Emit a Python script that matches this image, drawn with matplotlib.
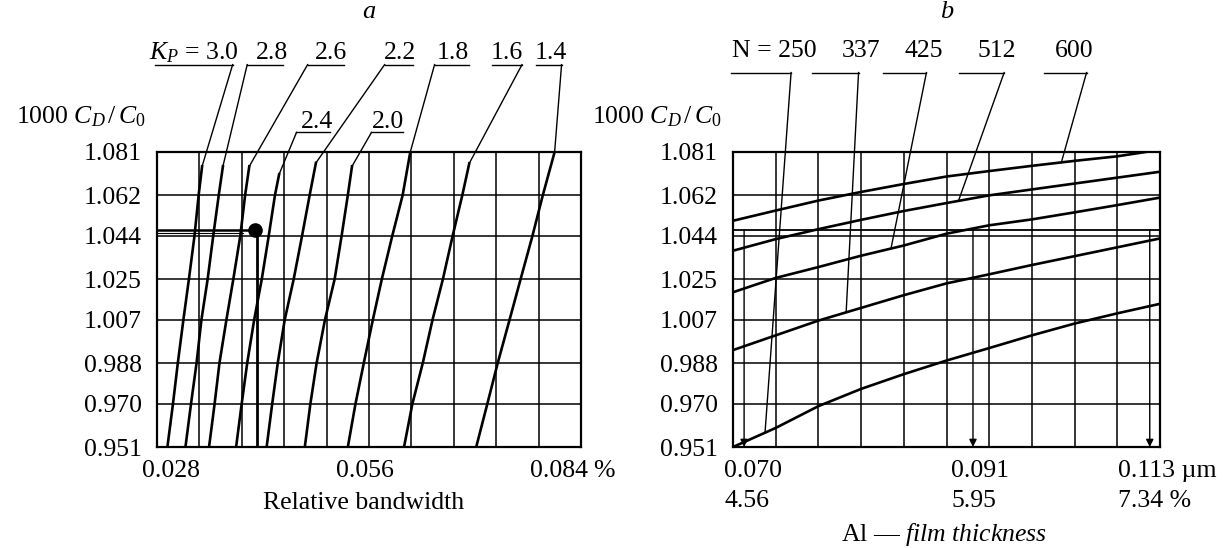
"""Nomogram: capacitance ratio against relative bandwidth (a) and Al film thickness (b)."""

import numpy as np
import matplotlib
matplotlib.use('Agg')
import matplotlib.pyplot as plt
from matplotlib.transforms import blended_transform_factory

plt.rcParams['font.family'] = ['Liberation Serif', 'DejaVu Serif']
plt.rcParams['mathtext.fontset'] = 'custom'
plt.rcParams['mathtext.rm'] = 'Liberation Serif'
plt.rcParams['mathtext.it'] = 'Liberation Serif:italic'
plt.rcParams['font.size'] = 18.5

# shared ordinate: 1000 C_D / C_0
ratio_levels = [0.951, 0.970, 0.988, 1.007, 1.025, 1.044, 1.062, 1.081]
reading_level = 1.0468

# ---- panel a: relative bandwidth (%) of each K_P line at ratio_levels[:7]
kp_values = ['$K_P$ = 3.0', '2.8', '2.6', '2.4', '2.2', '2.0', '1.8', '1.6', '1.4']
bw_30 = [0.0275, 0.0283, 0.0290, 0.0298, 0.0306, 0.0314, 0.0320]
bw_28 = [0.0301, 0.0309, 0.0317, 0.0324, 0.0333, 0.0341, 0.0349]
bw_26 = [0.0335, 0.0343, 0.0350, 0.0360, 0.0370, 0.0380, 0.0387]
bw_24 = [0.0374, 0.0382, 0.0390, 0.0400, 0.0411, 0.0421, 0.0430]
bw_22 = [0.0418, 0.0426, 0.0434, 0.0444, 0.0457, 0.0469, 0.0480]
bw_20 = [0.0473, 0.0481, 0.0490, 0.0502, 0.0516, 0.0526, 0.0535]
bw_18 = [0.0535, 0.0546, 0.0558, 0.0571, 0.0584, 0.0599, 0.0614]
bw_16 = [0.0616, 0.0628, 0.0643, 0.0657, 0.0672, 0.0686, 0.0700]
bw_14 = [0.0720, 0.0736, 0.0751, 0.0768, 0.0784, 0.0801, 0.0816]
kp_curves = [bw_30, bw_28, bw_26, bw_24, bw_22, bw_20, bw_18, bw_16, bw_14]
# upper end of each line, where the label leader meets it
kp_end_bw = [0.0325, 0.0355, 0.0393, 0.0436, 0.0489, 0.0541, 0.0625, 0.0710, 0.0833]
kp_end_ratio = [1.0747, 1.0747, 1.0747, 1.0712, 1.0762, 1.0747, 1.081, 1.0760, 1.081]
bw_ticks = [0.028, 0.056, 0.084]
operating_bw = 0.0401

# ---- panel b: curves for each N, sampled at the 10 grid divisions
n_values = ['N = 250', '337', '425', '512', '600']
div_b = [0, 1, 2, 3, 4, 5, 6, 7, 8, 9, 10]
div_600 = [0, 1, 2, 3, 4, 5, 6, 7, 8, 9, 9.66]
n_250 = [0.951, 0.9594, 0.9690, 0.9766, 0.9831, 0.9891, 0.9946, 1.0002, 1.0054, 1.0099, 1.0141]
n_337 = [0.9937, 1.0002, 1.0067, 1.0123, 1.0179, 1.0231, 1.0271, 1.0312, 1.0351, 1.0390, 1.0429]
n_425 = [1.0192, 1.0255, 1.0303, 1.0353, 1.0398, 1.0450, 1.0487, 1.0513, 1.0544, 1.0576, 1.0609]
n_512 = [1.0375, 1.0426, 1.0470, 1.0511, 1.0550, 1.0585, 1.0619, 1.0645, 1.0671, 1.0697, 1.0723]
n_600 = [1.0507, 1.0552, 1.0596, 1.0634, 1.0669, 1.0702, 1.0726, 1.0749, 1.0771, 1.0791, 1.081]
n_curves = [(div_b, n_250), (div_b, n_337), (div_b, n_425), (div_b, n_512), (div_600, n_600)]
n_attach = [0.75, 2.65, 3.70, 5.28, 7.69]
thick_div = [0.26, 5.62, 9.76]
thick_um = ['0.070', '0.091', '0.113 µm']
thick_pct = ['4.56', '5.95', '7.34 %']

# ---- label layout (leader underlines, text anchors)
kp_text_x = [0.0313, 0.0426, 0.0511, 0.0490, 0.0610, 0.0593, 0.0686, 0.0764, 0.0827]
kp_line_x0 = [0.0257, 0.0390, 0.0477, 0.0461, 0.0588, 0.0569, 0.0660, 0.0743, 0.0806]
kp_line_x1 = [0.0369, 0.0442, 0.0530, 0.0510, 0.0629, 0.0615, 0.0709, 0.0786, 0.0843]
kp_from_right = [True, False, False, False, False, False, False, True, True]
kp_low_row = [False, False, False, True, False, True, False, False, False]
kp_row_hi, kp_row_lo = 1.1195, 1.0896
n_text_x = [0.96, 3.0, 4.46, 6.18, 7.98]
n_line_x0 = [-0.04, 1.86, 3.52, 5.30, 7.29]
n_line_x1 = [1.36, 2.94, 4.53, 6.35, 8.28]
n_row = 1.1160
thick_label_x = [-0.21, 5.11, 9.01]

CURVE_LW = 1.9
GRID_LW = 1.1
THIN_LW = 1.0


def draw_frame(ax, x0, x1, title):
    """Square grid of 10 x 7 cells with the ratio scale on the left."""
    ax.set_xlim(x0, x1)
    ax.set_ylim(ratio_levels[0], ratio_levels[-1])
    for x in np.linspace(x0, x1, 11)[1:-1]:
        ax.axvline(x, color='k', lw=GRID_LW)
    for y in ratio_levels[1:-1]:
        ax.axhline(y, color='k', lw=GRID_LW)
    for sp in ax.spines.values():
        sp.set_linewidth(1.6)
    ax.set_xticks([])
    ax.set_yticks(ratio_levels)
    ax.set_yticklabels([f'{v:.3f}' for v in ratio_levels])
    ax.tick_params(axis='y', length=0, pad=11)
    trans = blended_transform_factory(ax.transAxes, ax.transData)
    ax.annotate(r'1000 $C_D\,/\,C_{\mathit{0}}$', xy=(0, 1.0965), xycoords=trans,
                xytext=(-8, 0), textcoords='offset points', ha='right', va='center',
                annotation_clip=False)
    ax.text(0.5, 1.1425, title, transform=trans, ha='center', va='center',
            style='italic', fontsize=19)


fig = plt.figure(figsize=(12.24, 5.48), dpi=100)
ax_a = fig.add_axes([157 / 1224, 1 - 447 / 548, 424 / 1224, 295 / 548])
ax_b = fig.add_axes([733 / 1224, 1 - 447 / 548, 427 / 1224, 295 / 548])

# ---------------- panel a
draw_frame(ax_a, 0.0260, 0.0871, 'a')
for xs, xe, ye in zip(kp_curves, kp_end_bw, kp_end_ratio):
    ax_a.plot(xs + [xe], ratio_levels[:7] + [ye], color='k', lw=CURVE_LW)

for i, lab in enumerate(kp_values):
    row = kp_row_lo if kp_low_row[i] else kp_row_hi
    xs = kp_line_x1[i] if kp_from_right[i] else kp_line_x0[i]
    ax_a.plot([kp_line_x0[i], kp_line_x1[i]], [row, row], color='k', lw=THIN_LW, clip_on=False)
    ax_a.plot([xs, kp_end_bw[i]], [row, kp_end_ratio[i]], color='k', lw=THIN_LW, clip_on=False)
    ax_a.annotate(lab, xy=(kp_text_x[i], row), xytext=(0, 3 if kp_low_row[i] else 4),
                  textcoords='offset points', ha='center', va='baseline',
                  annotation_clip=False)

# operating point and its reading lines
ax_a.plot([0.0260, 0.0392], [reading_level, reading_level], color='k', lw=1.8)
ax_a.plot([0.0260, 0.0384], [reading_level - 0.0014] * 2, color='k', lw=0.8)
ax_a.plot([operating_bw + 0.0003] * 2, [ratio_levels[0], reading_level], color='k', lw=2.0)
ax_a.plot(operating_bw, reading_level, 'o', color='k', ms=9.5)

trans_a = blended_transform_factory(ax_a.transData, ax_a.transAxes)
for v in bw_ticks:
    ax_a.annotate(f'{v:.3f}', xy=(v, 0), xycoords=trans_a, xytext=(0, -17),
                  textcoords='offset points', ha='center', va='center')
ax_a.annotate('%', xy=(bw_ticks[-1], 0), xycoords=trans_a, xytext=(32, -17),
              textcoords='offset points', ha='center', va='center')
ax_a.annotate('Relative bandwidth', xy=(0.0558, 0), xycoords=trans_a, xytext=(0, -40),
              textcoords='offset points', ha='center', va='center')

# ---------------- panel b
draw_frame(ax_b, 0, 10, 'b')
for xs, ys in n_curves:
    ax_b.plot(xs, ys, color='k', lw=CURVE_LW)

for i, lab in enumerate(n_values):
    xs, ys = n_curves[i]
    ya = np.interp(n_attach[i], xs, ys)
    ax_b.plot([n_line_x0[i], n_line_x1[i]], [n_row, n_row], color='k', lw=THIN_LW, clip_on=False)
    ax_b.plot([n_line_x1[i], n_attach[i]], [n_row, ya], color='k', lw=THIN_LW, clip_on=False)
    ax_b.annotate(lab, xy=(n_text_x[i], n_row), xytext=(0, 11),
                  textcoords='offset points', ha='center', va='baseline',
                  annotation_clip=False)

ax_b.axhline(reading_level, color='k', lw=1.3)
for x in thick_div:
    ax_b.annotate('', xy=(x, ratio_levels[0]), xytext=(x, reading_level),
                  arrowprops=dict(arrowstyle='-|>', color='k', lw=1.0,
                                  mutation_scale=11, shrinkA=0, shrinkB=0))

trans_b = blended_transform_factory(ax_b.transData, ax_b.transAxes)
for x, um, pct in zip(thick_label_x, thick_um, thick_pct):
    ax_b.annotate(um, xy=(x, 0), xycoords=trans_b, xytext=(0, -17),
                  textcoords='offset points', ha='left', va='center')
    ax_b.annotate(pct, xy=(x, 0), xycoords=trans_b, xytext=(0, -39),
                  textcoords='offset points', ha='left', va='center')
ax_b.annotate(r'Al — $\mathit{film\ thickness}$', xy=(4.95, 0), xycoords=trans_b,
              xytext=(0, -63), textcoords='offset points', ha='center', va='center')

fig.savefig('out.png', dpi=100, facecolor='white')
plt.close(fig)
